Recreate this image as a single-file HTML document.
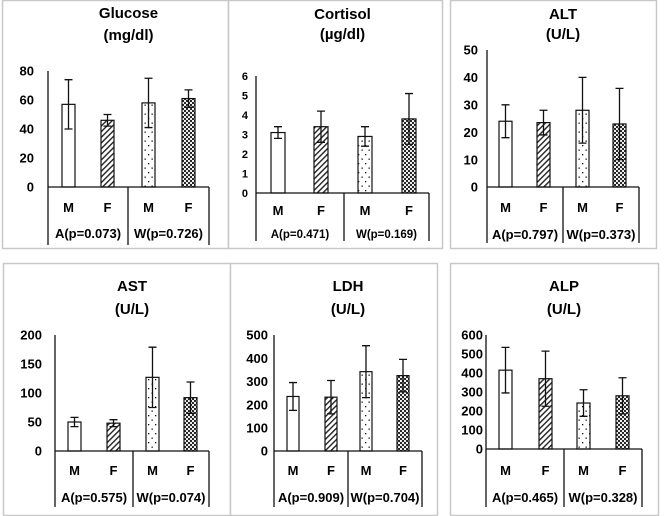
<!DOCTYPE html>
<html><head><meta charset="utf-8"><style>
html,body{margin:0;padding:0;background:#fff;}
svg{display:block;font-family:"Liberation Sans",sans-serif;}
</style></head><body>
<svg id="chart" width="669" height="516" viewBox="0 0 669 516" xmlns="http://www.w3.org/2000/svg">
<defs>
<pattern id="hatch" patternUnits="userSpaceOnUse" width="4" height="4" patternTransform="rotate(45)"><rect width="4" height="4" fill="#fff"/><rect width="1.4" height="4" fill="#222"/></pattern>
<pattern id="dots" patternUnits="userSpaceOnUse" width="7" height="9"><rect width="7" height="9" fill="#fff"/><rect x="1" y="1" width="1.3" height="1.3" fill="#111"/><rect x="4.5" y="5.5" width="1.3" height="1.3" fill="#111"/></pattern>
<pattern id="dense" patternUnits="userSpaceOnUse" width="4" height="4"><rect width="4" height="4" fill="#222"/><circle cx="1" cy="1" r="1.1" fill="#fff"/><circle cx="3" cy="3" r="1.1" fill="#fff"/></pattern>
</defs>
</svg>
<script>
const panelTitles = ["Glucose","Cortisol","ALT","AST","LDH","ALP"];
const panelUnits = ["(mg/dl)","(\u00b5g/dl)","(U/L)","(U/L)","(U/L)","(U/L)"];
const categories = ["M","F","M","F"];
const groupLabels = [["A(p=0.073)","W(p=0.726)"],["A(p=0.471)","W(p=0.169)"],["A(p=0.797)","W(p=0.373)"],["A(p=0.575)","W(p=0.074)"],["A(p=0.909)","W(p=0.704)"],["A(p=0.465)","W(p=0.328)"]];
const glucoseMeans = [57,46,58,61];
const glucoseErrs = [17,4,17,6];
const cortisolMeans = [3.1,3.4,2.9,3.8];
const cortisolErrs = [0.3,0.8,0.5,1.3];
const altMeans = [24,23.5,28,23];
const altErrs = [6,4.5,12,13];
const astMeans = [50,48,127,92];
const astErrs = [8,6,52,27];
const ldhMeans = [235,232,342,325];
const ldhErrs = [60,72,112,70];
const alpMeans = [415,370,242,280];
const alpErrs = [120,145,70,95];
const glucoseTicks = [0,20,40,60,80];
const cortisolTicks = [0,1,2,3,4,5,6];
const altTicks = [0,10,20,30,40,50];
const astTicks = [0,50,100,150,200];
const ldhTicks = [0,100,200,300,400,500];
const alpTicks = [0,100,200,300,400,500,600];

const allMeans=[glucoseMeans,cortisolMeans,altMeans,astMeans,ldhMeans,alpMeans];
const allErrs=[glucoseErrs,cortisolErrs,altErrs,astErrs,ldhErrs,alpErrs];
const allTicks=[glucoseTicks,cortisolTicks,altTicks,astTicks,ldhTicks,alpTicks];
const fills=["#fff","url(#hatch)","url(#dots)","url(#dense)"];
const L=[
 {box:[2,0,226,248],ax:48,top:71,zero:187,xe:209,mid:128,bars:[62,101,142,182],bw:13,t1:18,t2:40,ly:212,gy:238,ab:245,fs:13,to:14},
 {box:[228,0,214,248],ax:256,top:76,zero:193,xe:429,mid:344,bars:[271,314,358,402],bw:14,t1:19,t2:39,ly:215,gy:238,ab:241,fs:11,to:8},
 {box:[450,0,206,248],ax:487,top:50,zero:187,xe:639,mid:563,bars:[499,537,576,613],bw:13,t1:19,t2:39,ly:212,gy:239,ab:243,fs:13,to:9},
 {box:[3,263,227,252],ax:55,top:335,zero:451,xe:209,mid:133,bars:[68,107,146,184],bw:13,t1:291,t2:314,ly:475,gy:502,ab:507,fs:13,to:13},
 {box:[230,263,207,252],ax:274,top:335,zero:451,xe:422,mid:348,bars:[287,325,360,397],bw:12,t1:291,t2:314,ly:475,gy:502,ab:507,fs:13,to:6},
 {box:[450,263,208,252],ax:486,top:335,zero:449,xe:642,mid:564,bars:[499,539,577,616],bw:13,t1:291,t2:314,ly:475,gy:502,ab:507,fs:13,to:3}
];
const svg=document.getElementById('chart');
const NS="http://www.w3.org/2000/svg";
function mk(tag,attrs,parent){const e=document.createElementNS(NS,tag);for(const k in attrs)e.setAttribute(k,attrs[k]);(parent||svg).appendChild(e);return e;}
panelTitles.forEach((title,p)=>{
 const c=L[p];
 const g=mk('g',{});
 
 
 const box=mk('rect',{x:c.box[0]+0.5,y:c.box[1]+0.5,width:c.box[2],height:c.box[3],fill:'#fff',stroke:'#c8c8c8','stroke-width':1.5},g);
 
 
 const cx=(c.ax+c.xe)/2;
 const t=mk('text',{x:cx,y:c.t1,'text-anchor':'middle','font-size':15,'font-weight':'bold'},g);t.textContent=title;
 
 
 const u=mk('text',{x:cx,y:c.t2,'text-anchor':'middle','font-size':15,'font-weight':'bold'},g);u.textContent=panelUnits[p];
 
 
 const ticks=allTicks[p];const max=ticks[ticks.length-1];
 const y=v=>c.zero-(v/max)*(c.zero-c.top);
 ticks.forEach(tv=>{const tl=mk('text',{x:c.ax-c.to,y:y(tv)+c.fs*0.36,'text-anchor':'end','font-size':c.fs,'font-weight':'bold'},g);tl.textContent=tv;
  
  });
 const means=allMeans[p],errs=allErrs[p];
 means.forEach((m,i)=>{
  const bx=c.bars[i];
  const r=mk('rect',{x:bx,y:y(m),width:c.bw,height:c.zero-y(m),fill:fills[i],stroke:'#111','stroke-width':1.2},g);
  
  
  const ex=bx+c.bw/2;
  const eb=mk('path',{d:`M${ex},${y(m+errs[i])}V${y(m-errs[i])}M${ex-4},${y(m+errs[i])}H${ex+4}M${ex-4},${y(m-errs[i])}H${ex+4}`,stroke:'#111','stroke-width':1.3,fill:'none'},g);
  
  
  const cl=mk('text',{x:ex,y:c.ly,'text-anchor':'middle','font-size':13,'font-weight':'bold'},g);cl.textContent=categories[i];
  
  
 });
 const ax=mk('path',{d:`M${c.ax},${c.top}V${c.ab}M${c.ax},${c.zero}H${c.xe}M${c.mid},${c.zero}V${c.ab}M${c.xe},${c.zero}V${c.ab}`,stroke:'#111','stroke-width':1.3,fill:'none'},g);
 
 
 groupLabels[p].forEach((gl,k)=>{
  const gx=k==0?(c.ax+c.mid)/2:(c.mid+c.xe)/2;
  const tt=mk('text',{x:gx,y:c.gy,'text-anchor':'middle','font-size':c.fs==11?11.5:13,'font-weight':'bold'},g);tt.textContent=gl;
  
  
 });
});
</script>
</body></html>
